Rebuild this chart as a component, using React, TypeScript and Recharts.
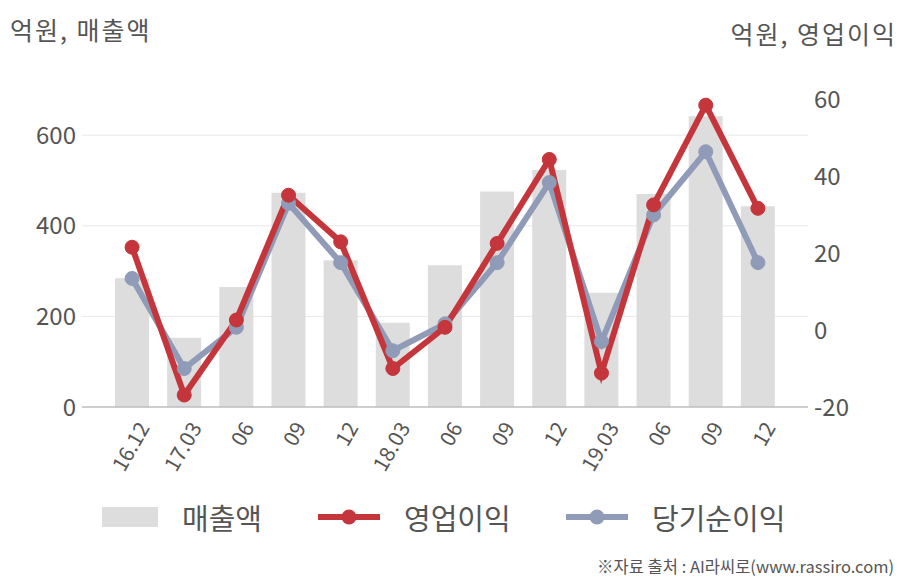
import { Bar, CartesianGrid, ComposedChart, Line, XAxis, YAxis } from "recharts";

const categories = ["16.12", "17.03", "06", "09", "12", "18.03", "06", "09", "12", "19.03", "06", "09", "12"];
const sales = [284, 153, 265, 473, 324, 186, 313, 476, 523, 252, 470, 642, 443];
const operatingProfit = [21.5, -16.9, 2.6, 35, 22.9, -10, 0.7, 22.5, 44.3, -11.2, 32.5, 58.4, 31.6];
const netProfit = [13.4, -10, 0.7, 32.9, 17.5, -5.4, 1.6, 17.5, 38.3, -3, 29.9, 46.3, 17.5];
const leftTicks = [0, 200, 400, 600];
const rightTicks = [-20, 0, 20, 40, 60];

const FONT = "'Noto Sans CJK KR', 'Open Sans', sans-serif";
const TEXT = "#555555";
const RED = "#c4363b";
const BLUE = "#8f9bb7";
const BAR = "#dddddd";

const data = categories.map((c, i) => ({
  key: `${i}`,
  label: c,
  sales: sales[i],
  op: operatingProfit[i],
  net: netProfit[i],
}));

function XTick(props: any) {
  const { x, y, payload } = props;
  const label = categories[Number(payload.value)];
  const ax = x + 12;
  const ay = y + 9;
  return (
    <text
      x={ax}
      y={ay}
      dy="0.35em"
      textAnchor="end"
      fontSize={21}
      fill={TEXT}
      fontFamily={FONT}
      transform={`rotate(-60, ${ax}, ${ay})`}
    >
      {label}
    </text>
  );
}

function LegendItem({ kind, color, label }: { kind: string; color: string; label: string }) {
  return (
    <div style={{ display: "flex", alignItems: "center" }}>
      {kind === "bar" ? (
        <div style={{ width: 56, height: 20, background: color }} />
      ) : (
        <svg width={62} height={22}>
          <line x1={0} y1={11} x2={62} y2={11} stroke={color} strokeWidth={6} />
          <circle cx={31} cy={11} r={7.5} fill={color} />
        </svg>
      )}
      <span style={{ marginLeft: 24, fontSize: 29, color: TEXT }}>{label}</span>
    </div>
  );
}

export default function App() {
  return (
    <div
      style={{
        position: "absolute",
        left: 0,
        top: 0,
        width: 908,
        height: 580,
        background: "#fff",
        fontFamily: FONT,
        overflow: "hidden",
      }}
    >
      <div style={{ position: "absolute", left: 10, top: 11, fontSize: 25, letterSpacing: 2, color: TEXT }}>
        억원, 매출액
      </div>
      <div style={{ position: "absolute", right: 11, top: 15, fontSize: 25, letterSpacing: 2, color: TEXT }}>
        억원, 영업이익
      </div>
      <ComposedChart
        width={908}
        height={580}
        data={data}
        margin={{ top: 99, right: 0, bottom: 0, left: 0 }}
      >
        <CartesianGrid yAxisId="left" vertical={false} horizontalValues={leftTicks} stroke="#e8e8e8" />
        <XAxis
          dataKey="key"
          height={173}
          padding={{ left: 24, right: 24 }}
          tickLine={false}
          axisLine={{ stroke: "#aaaaaa" }}
          tick={<XTick />}
          interval={0}
        />
        <YAxis
          yAxisId="left"
          width={82}
          domain={[0, 680]}
          ticks={leftTicks}
          tickLine={false}
          axisLine={false}
          tickMargin={0}
          tick={{ fontSize: 24, fill: TEXT, fontFamily: FONT }}
        />
        <YAxis
          yAxisId="right"
          orientation="right"
          width={100}
          domain={[-20, 60]}
          ticks={rightTicks}
          tickLine={false}
          axisLine={false}
          tickMargin={0}
          tick={{ fontSize: 24, fill: TEXT, fontFamily: FONT }}
        />
        <Bar yAxisId="left" dataKey="sales" fill={BAR} barSize={34} isAnimationActive={false} />
        <Line
          yAxisId="right"
          dataKey="net"
          stroke={BLUE}
          strokeWidth={6}
          dot={{ r: 7, fill: BLUE, stroke: BLUE, strokeWidth: 1 }}
          isAnimationActive={false}
        />
        <Line
          yAxisId="right"
          dataKey="op"
          stroke={RED}
          strokeWidth={6}
          dot={{ r: 7, fill: RED, stroke: RED, strokeWidth: 1 }}
          isAnimationActive={false}
        />
      </ComposedChart>
      <div style={{ position: "absolute", left: 102, top: 496, display: "flex" }}>
        <div style={{ width: 216 }}>
          <LegendItem kind="bar" color={BAR} label="매출액" />
        </div>
        <div style={{ width: 248 }}>
          <LegendItem kind="line" color={RED} label="영업이익" />
        </div>
        <div>
          <LegendItem kind="line" color={BLUE} label="당기순이익" />
        </div>
      </div>
      <div style={{ position: "absolute", right: 14, top: 554, fontSize: 16.5, color: TEXT }}>
        ※자료 출처 : AI라씨로(www.rassiro.com)
      </div>
    </div>
  );
}
